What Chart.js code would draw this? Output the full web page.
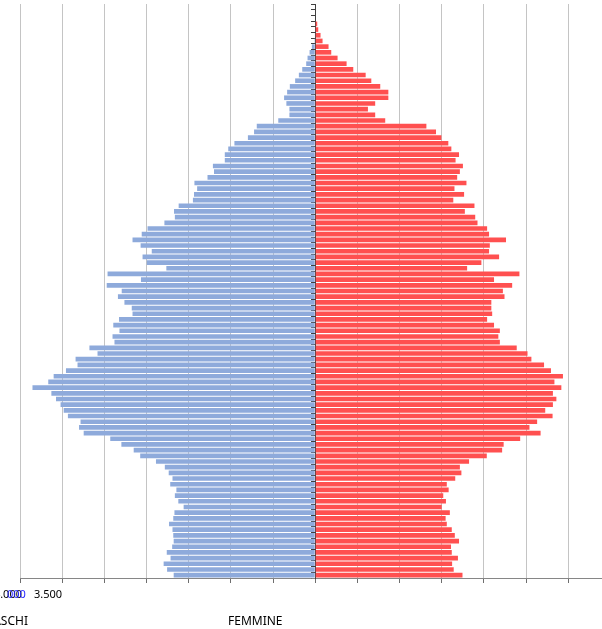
<!DOCTYPE html>
<html>
<head>
<meta charset="utf-8">
<script src="https://cdn.jsdelivr.net/npm/chart.js@4/dist/chart.umd.min.js"></script>
<style>
  body { margin: 0; width: 602px; height: 629px; overflow: hidden; position: relative; background: #fff; }
  .lbl { position: absolute; font-family: "Noto Sans", sans-serif; color: #000; white-space: nowrap; }
</style>
</head>
<body>
<canvas id="cs" width="602" height="629"></canvas>
<span class="lbl" style="right:580px;top:586px;font-size:11px">4.000</span>
<span class="lbl" style="left:7px;top:586px;font-size:11px;color:#1f1fff">000</span>
<span class="lbl" style="left:34px;top:586px;font-size:11px">3.500</span>
<span class="lbl" style="right:574px;top:612px;font-size:12px">MASCHI</span>
<span class="lbl" style="left:228px;top:612px;font-size:12px">FEMMINE</span>
<script>
// ages 0 .. 100 (bottom to top)
var ages = ["0","1","2","3","4","5","6","7","8","9","10","11","12","13","14","15","16","17","18","19",
  "20","21","22","23","24","25","26","27","28","29","30","31","32","33","34","35","36","37","38","39",
  "40","41","42","43","44","45","46","47","48","49","50","51","52","53","54","55","56","57","58","59",
  "60","61","62","63","64","65","66","67","68","69","70","71","72","73","74","75","76","77","78","79",
  "80","81","82","83","84","85","86","87","88","89","90","91","92","93","94","95","96","97","98","99","100"];

var maschi = [1678, 1756, 1797, 1715, 1760, 1696, 1678, 1683, 1692, 1733,
  1683, 1669, 1560, 1623, 1664, 1646, 1719, 1692, 1737, 1783,
  1888, 2075, 2152, 2298, 2430, 2745, 2800, 2782, 2932, 2982,
  3019, 3073, 3128, 3352, 3165, 3101, 2955, 2818, 2841, 2581,
  2677, 2380, 2403, 2321, 2394, 2326, 2166, 2175, 2262, 2339,
  2294, 2472, 2066, 2462, 1765, 1997, 2047, 1938, 2070, 2166,
  2057, 1988, 1788, 1664, 1674, 1619, 1450, 1437, 1400, 1432,
  1277, 1200, 1213, 1072, 1072, 1031, 958, 798, 725, 693,
  438, 306, 306, 342, 369, 333, 301, 238, 194, 154,
  107, 91, 67, 40, 10, 5, 0, 0, 0, 0, 0];

var femmine = [1746, 1642, 1623, 1692, 1619, 1610, 1705, 1655, 1619, 1560,
  1546, 1596, 1500, 1550, 1518, 1582, 1560, 1660, 1733, 1715,
  1824, 2034, 2216, 2234, 2430, 2672, 2540, 2631, 2814, 2727,
  2818, 2859, 2818, 2918, 2836, 2937, 2795, 2713, 2563, 2517,
  2389, 2189, 2171, 2189, 2120, 2038, 2098, 2088, 2088, 2244,
  2225, 2335, 2120, 2421, 1801, 1970, 2180, 2061, 2070, 2262,
  2061, 2038, 1924, 1897, 1774, 1888, 1637, 1765, 1651, 1793,
  1683, 1715, 1751, 1664, 1705, 1614, 1578, 1496, 1432, 1318,
  830, 711, 625, 711, 867, 867, 771, 665, 598, 451,
  372, 265, 190, 158, 87, 63, 36, 24, 0, 0, 0];

var xTicks = [-3500, -3000, -2500, -2000, -1500, -1000, -500, 0, 500, 1000, 1500, 2000, 2500, 3000];

var ctx = document.getElementById("cs");
var chart = new Chart(ctx, {
  type: 'bar',
  data: {
    labels: ages,
    datasets: [{
      label: "MASCHI",
      backgroundColor: "#8eaadb",
      data: maschi.map(function (v) { return -v; })
    }, {
      label: "FEMMINE",
      backgroundColor: "#ff5050",
      data: femmine
    }]
  },
  options: {
    responsive: false,
    animation: false,
    indexAxis: 'y',
    layout: { padding: { left: 20, top: 4, right: 0, bottom: 46 } },
    datasets: { bar: { barPercentage: 0.82, categoryPercentage: 1 } },
    scales: {
      x: {
        stacked: true,
        min: -3500,
        max: 3400,
        afterBuildTicks: function (axis) {
          axis.ticks = xTicks.map(function (v) { return { value: v }; });
        },
        ticks: { display: false },
        grid: { color: "#c4c4c4", tickColor: "#6e6e6e", tickLength: 5 },
        border: { color: "#868686" }
      },
      y: {
        stacked: true,
        reverse: true,
        position: { x: 0 },
        ticks: { display: false },
        grid: { drawOnChartArea: false, tickLength: 4, color: "#404040", offset: true },
        border: { color: "#404040" }
      }
    },
    plugins: {
      legend: { display: false },
      tooltip: { enabled: false }
    }
  }
});
</script>
</body>
</html>
